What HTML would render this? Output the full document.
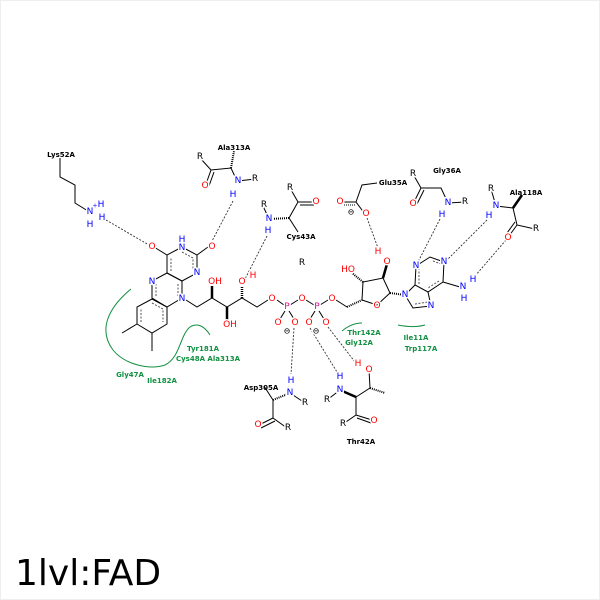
<!DOCTYPE html>
<html><head><meta charset="utf-8"><style>
html,body{margin:0;padding:0;background:#fff;}
svg{display:block}
.a{font-family:"DejaVu Sans","Liberation Sans",sans-serif;font-size:9px;text-anchor:middle;dominant-baseline:central;stroke:#fff;stroke-width:3px;paint-order:stroke;stroke-linejoin:round}
.l{font-family:"DejaVu Sans","Liberation Sans",sans-serif;font-size:7px;text-anchor:middle;dominant-baseline:central;font-weight:bold}
.g{fill:#109040}
.N{fill:#0000ff}.O{fill:#ff0000}.P{fill:#d0108a}
</style></head><body>
<svg width="600" height="600" viewBox="0 0 600 600" xmlns="http://www.w3.org/2000/svg">
<rect x="0" y="0" width="600" height="600" fill="#fff"/>
<rect x="0.5" y="0.5" width="599" height="599" fill="none" stroke="#eee"/>
<g stroke="#000" stroke-width="1" fill="none">
<polygon points="182,247 197,255 197,273 182,281 167,273 167,255"/>
<polygon points="167,273 182,281 182,298 167,307 152,298 152,281"/>
<polygon points="152,299 167,307 167,324 152,333 137,324 137,307"/>
<g stroke-dasharray="2,1.5" stroke="#555">
<polyline points="182,252 193,258 193,270"/><polyline points="171,271 171,258"/>
<polyline points="178,284 178,296"/><polyline points="156,296 156,284"/>
<polyline points="152,303 163,309 163,322"/><polyline points="141,322 141,309"/>
</g>
<line x1="167" y1="255" x2="154" y2="247"/><line x1="197" y1="255" x2="208" y2="247"/>
<line x1="137" y1="324" x2="122" y2="333"/><line x1="152" y1="333" x2="152" y2="351"/>
<polyline points="186,300 197,307 212,298 227,307 242,298 257,307 268,300"/>
<line x1="212" y1="298" x2="212" y2="286" stroke-width="2.5"/>
<line x1="227" y1="307" x2="227" y2="320" stroke-width="2.5"/>
<line x1="242" y1="298" x2="242" y2="286" stroke-dasharray="1,1" stroke-width="2.5"/>
<line x1="277" y1="300" x2="284" y2="305"/><line x1="290" y1="305" x2="298" y2="300"/>
<line x1="306" y1="300" x2="314" y2="305"/><line x1="320" y1="305" x2="328" y2="300"/>
<line x1="336" y1="300" x2="347" y2="307"/><line x1="347" y1="307" x2="362" y2="300" stroke-dasharray="1,1" stroke-width="2"/>
<line x1="285" y1="311" x2="280" y2="319"/><line x1="289" y1="311" x2="294" y2="319"/>
<line x1="315" y1="311" x2="310" y2="319"/><line x1="319" y1="311" x2="324" y2="319"/>
<polyline points="362,300 377,305 390,293 383,278 363,282 362,300"/>
<line x1="383" y1="278" x2="387" y2="264" stroke-width="2.5"/>
<line x1="363" y1="282" x2="352" y2="273" stroke-dasharray="1,1" stroke-width="2"/>
<line x1="390" y1="293" x2="405" y2="295" stroke-dasharray="1,1" stroke-width="2"/>
<!-- adenine -->
<polygon points="415,285 416,266 430,257 444,262 443,282 428,292"/>
<polyline points="415,285 405,295 413,308 431,306 428,292"/>
<g stroke-dasharray="2,1.5" stroke="#555">
<line x1="419" y1="284" x2="419" y2="269"/><line x1="433" y1="261" x2="441" y2="264"/><line x1="439" y1="281" x2="428" y2="288"/>
<line x1="415" y1="304" x2="428" y2="302"/>
</g>
<line x1="443" y1="282" x2="460" y2="287"/>
<!-- Lys52 -->
<polyline points="60,158 60,177 75,185 75,203 88,211"/>
<!-- Ala313 -->
<polyline points="201,159 211,170 231,168 237,181"/><line x1="211" y1="170" x2="206" y2="184"/><line x1="214" y1="172" x2="209" y2="186"/>
<line x1="231" y1="168" x2="234" y2="151" stroke-dasharray="1,1" stroke-width="2"/><line x1="238" y1="181" x2="255" y2="179"/>
<!-- Cys43 -->
<polyline points="290,188 298,202 289,218 298,232"/><line x1="298" y1="202" x2="314" y2="202"/><line x1="300" y1="205" x2="314" y2="205"/>
<line x1="289" y1="218" x2="270" y2="219" stroke-dasharray="1,1" stroke-width="2"/><line x1="263" y1="206" x2="269" y2="219"/>
<!-- Glu35 -->
<polyline points="377,183 362,185 356,202 365,214"/><line x1="356" y1="202" x2="341" y2="202"/><line x1="355" y1="205" x2="343" y2="205" stroke-dasharray="1,1"/>
<!-- Gly36 -->
<polyline points="413,174 421,188 441,188 448,203 465,202"/><line x1="421" y1="188" x2="414" y2="202"/><line x1="424" y1="190" x2="417" y2="204"/>
<!-- Ala118 -->
<polyline points="491,189 496,206 513,208"/><line x1="513" y1="208" x2="522" y2="195" stroke-width="2.5"/>
<polyline points="513,208 517,225 535,229"/><line x1="517" y1="225" x2="509" y2="236"/><line x1="515" y1="222" x2="507" y2="233"/>
<!-- Asp305 -->
<polyline points="264,386 273,400 273,418 287,428"/><line x1="273" y1="400" x2="290" y2="393" stroke-dasharray="1,1" stroke-width="2"/><line x1="290" y1="393" x2="305" y2="403"/>
<line x1="273" y1="418" x2="259" y2="425"/><line x1="275" y1="421" x2="261" y2="428"/>
<!-- Thr42 -->
<line x1="340" y1="390" x2="356" y2="397" stroke-width="2.5"/><line x1="340" y1="390" x2="327" y2="400"/>
<polyline points="356,397 370,388 369,370"/><line x1="370" y1="388" x2="385" y2="393" stroke-dasharray="1,1" stroke-width="2"/>
<polyline points="343,424 356,415 356,397"/><line x1="356" y1="415" x2="372" y2="420"/><line x1="357" y1="418" x2="371" y2="423"/>
</g>
<g stroke="#333" stroke-width="0.9" stroke-dasharray="2,1.5" fill="none">
<line x1="106" y1="220" x2="149" y2="245"/>
<line x1="233" y1="201" x2="211" y2="243"/>
<line x1="267" y1="236" x2="245" y2="279"/>
<line x1="367" y1="218" x2="378" y2="248"/>
<line x1="440" y1="219" x2="418" y2="262"/>
<line x1="487" y1="220" x2="447" y2="260"/>
<line x1="506" y1="240" x2="475" y2="276"/>
<line x1="294" y1="328" x2="291" y2="374"/>
<line x1="310" y1="328" x2="337" y2="372"/>
<line x1="328" y1="327" x2="355" y2="362"/>
</g>
<g stroke="#109040" stroke-width="1" fill="none">
<path d="M131,289 C108,308 98,330 113,350 C125,365 150,370 165,365 C180,358 180,335 190,327 C198,322 205,327 210,335"/>
<path d="M342,331 C348,326 355,323 362,323"/>
<path d="M398,325 C408,327 418,327 425,325"/>
</g>
<g>
<text class="a O" x="152" y="247">O</text>
<text class="a N" x="182" y="248">N</text><text class="a N" x="182" y="240">H</text>
<text class="a O" x="212" y="247">O</text>
<text class="a N" x="197" y="273">N</text>
<text class="a N" x="152" y="282">N</text>
<text class="a N" x="182" y="299">N</text>
<text class="a O" x="215" y="282">OH</text>
<text class="a O" x="230" y="325">OH</text>
<text class="a O" x="242" y="282">O</text><text class="a O" x="253" y="276">H</text>
<text class="a O" x="272" y="299">O</text>
<text class="a P" x="287" y="307">P</text>
<text class="a O" x="302" y="299">O</text>
<text class="a P" x="317" y="307">P</text>
<text class="a O" x="332" y="299">O</text>
<text class="a O" x="278" y="323">O</text><text class="a O" x="295" y="323">O</text>
<text class="a O" x="309" y="323">O</text><text class="a O" x="326" y="323">O</text>
<text class="a" x="287" y="331" style="font-size:8px">⊖</text><text class="a" x="316" y="331" style="font-size:8px">⊖</text>
<text class="a O" x="377" y="306">O</text>
<text class="a O" x="348" y="270">HO</text>
<text class="a O" x="387" y="262">O</text><text class="a O" x="378" y="252">H</text>
<text class="a N" x="405" y="295">N</text>
<text class="a N" x="431" y="306">N</text>
<text class="a N" x="416" y="266">N</text>
<text class="a N" x="444" y="262">N</text>
<text class="a N" x="463" y="287">N</text><text class="a N" x="473" y="280">H</text><text class="a N" x="464" y="299">H</text>
<text class="a N" x="90" y="212">N</text><text class="a N" x="95" y="206" style="font-size:6px">+</text>
<text class="a N" x="101" y="205">H</text><text class="a N" x="102" y="218">H</text><text class="a N" x="90" y="225">H</text>
<text class="a" x="200" y="157">R</text><text class="a O" x="205" y="186">O</text>
<text class="a N" x="238" y="181">N</text><text class="a" x="255" y="179">R</text><text class="a N" x="233" y="195">H</text>
<text class="a" x="290" y="188">R</text><text class="a O" x="316" y="202">O</text>
<text class="a N" x="269" y="219">N</text><text class="a" x="264" y="205">R</text><text class="a N" x="268" y="231">H</text>
<text class="a" x="302" y="263">R</text>
<text class="a O" x="340" y="202">O</text><text class="a" x="351" y="212" style="font-size:8px">⊖</text><text class="a O" x="366" y="214">O</text>
<text class="a" x="413" y="174">R</text><text class="a O" x="413" y="204">O</text>
<text class="a N" x="448" y="203">N</text><text class="a" x="465" y="202">R</text><text class="a N" x="442" y="215">H</text>
<text class="a" x="491" y="189">R</text><text class="a N" x="496" y="206">N</text><text class="a N" x="489" y="216">H</text>
<text class="a O" x="508" y="238">O</text><text class="a" x="536" y="229">R</text>
<text class="a N" x="291" y="381">H</text><text class="a N" x="290" y="393">N</text><text class="a" x="305" y="403">R</text>
<text class="a O" x="258" y="425">O</text><text class="a" x="288" y="428">R</text>
<text class="a N" x="340" y="377">H</text><text class="a N" x="340" y="390">N</text><text class="a" x="327" y="400">R</text>
<text class="a O" x="369" y="370">O</text><text class="a O" x="358" y="364">H</text>
<text class="a O" x="374" y="421">O</text><text class="a" x="343" y="424">R</text>
</g>
<g>
<text class="l" x="61" y="155">Lys52A</text>
<text class="l" x="234" y="148">Ala313A</text>
<text class="l" x="301" y="237">Cys43A</text>
<text class="l" x="393" y="183">Glu35A</text>
<text class="l" x="447" y="171">Gly36A</text>
<text class="l" x="526" y="193">Ala118A</text>
<text class="l" x="261" y="388">Asp305A</text>
<text class="l" x="361" y="442">Thr42A</text>
<text class="l g" x="203" y="349">Tyr181A</text>
<text class="l g" x="208" y="359">Cys48A  Ala313A</text>
<text class="l g" x="130" y="375">Gly47A</text>
<text class="l g" x="162" y="381">Ile182A</text>
<text class="l g" x="364" y="333">Thr142A</text>
<text class="l g" x="359" y="343">Gly12A</text>
<text class="l g" x="416" y="338">Ile11A</text>
<text class="l g" x="421" y="349">Trp117A</text>
</g>
<text x="15" y="585" style="font-family:'DejaVu Sans','Liberation Sans',sans-serif;font-size:36px" fill="#000">1lvl:FAD</text>
</svg>
</body></html>
